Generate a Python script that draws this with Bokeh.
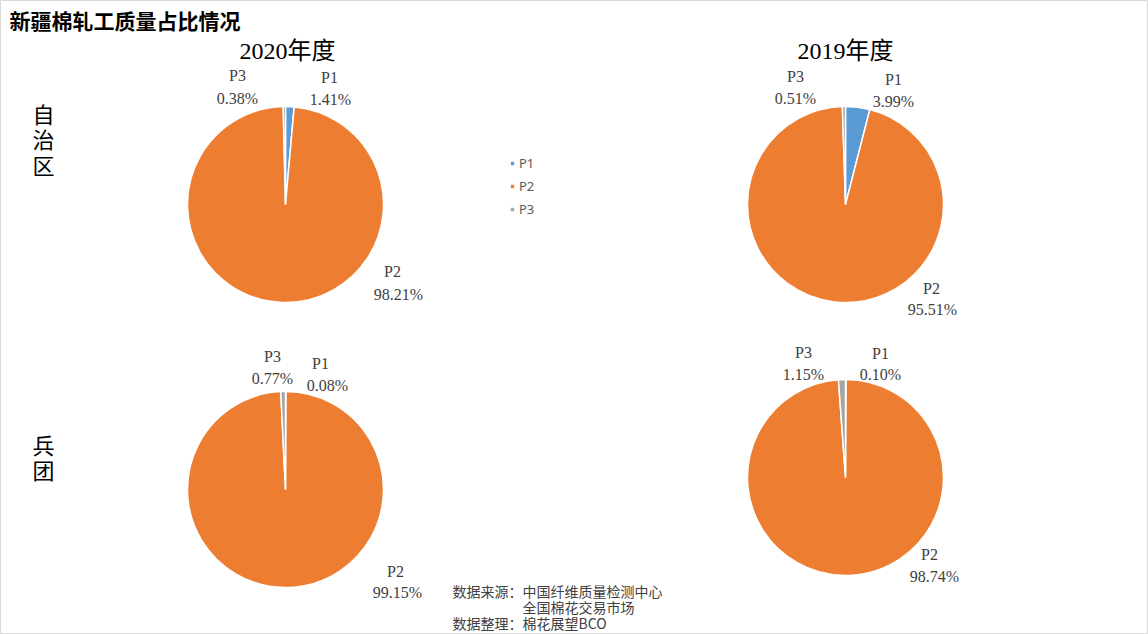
import math
from bokeh.plotting import figure
from bokeh.models import Range1d, ColumnDataSource, Legend, LegendItem
from bokeh.core.properties import value
from bokeh.embed import file_html
from bokeh.resources import INLINE

# ---------------- data ----------------
categories = ["P1", "P2", "P3"]
colors = ["#5B9BD5", "#ED7D31", "#A5A5A5"]
zzq_2020 = [1.41, 98.21, 0.38]   # 自治区 2020年度
zzq_2019 = [3.99, 95.51, 0.51]   # 自治区 2019年度
bt_2020 = [0.08, 99.15, 0.77]    # 兵团 2020年度
bt_2019 = [0.10, 98.74, 1.15]    # 兵团 2019年度
years = ["2020年度", "2019年度"]
regions = ["自治区", "兵团"]
title = "新疆棉轧工质量占比情况"
source_lines = ["数据来源：中国纤维质量检测中心", "全国棉花交易市场", "数据整理：棉花展望BCO"]

# ---------------- layout (pixel coords from top-left) ----------------
W, H = 1148, 634
def Y(y):
    return H - y

SERIF = value("Liberation Serif, Noto Sans CJK SC")
CJK = value("Noto Sans CJK SC")

p = figure(width=W, height=H, output_backend="svg", toolbar_location=None,
           x_range=Range1d(0, W), y_range=Range1d(0, H), min_border=0)
p.axis.visible = False
p.grid.visible = False
p.outline_line_color = "#d9d9d9"
p.background_fill_color = "white"
p.border_fill_color = "white"

# label offsets per category (P1, P2, P3): (name dx, dy, value dx, dy)
pies = [
    (zzq_2020, 285, 204, [(44, -127, 45, -105), (107, 67, 113, 90), (-48, -129, -48, -106)]),
    (zzq_2019, 845, 204, [(48, -125, 48, -103), (86, 84, 87, 105), (-50, -128, -50, -106)]),
    (bt_2020, 285, 489, [(35, -126, 42, -104), (110, 82, 112, 103), (-13, -133, -13, -111)]),
    (bt_2019, 845, 477, [(35, -124, 35, -103), (84, 77, 89, 99), (-42, -125, -42, -103)]),
]
R = 98

wedge_renderers = []
for vals, cx, cy, lab in pies:
    total = sum(vals)
    starts, ends = [], []
    cum = 0.0
    for v in vals:
        starts.append(math.pi / 2 - 2 * math.pi * cum / total)
        cum += v
        ends.append(math.pi / 2 - 2 * math.pi * cum / total)
    src = ColumnDataSource(dict(x=[cx] * 3, y=[Y(cy)] * 3, s=starts, e=ends,
                                c=colors, cat=categories))
    r = p.wedge(x="x", y="y", radius=R, start_angle="s", end_angle="e",
                direction="clock", fill_color="c", line_color="white",
                line_width=1.5, source=src)
    wedge_renderers.append(r)
    for i, (dx1, dy1, dx2, dy2) in enumerate(lab):
        p.text(x=[cx + dx1], y=[Y(cy + dy1)], text=[categories[i]],
               text_font=SERIF, text_font_size="16px", text_color="#404040",
               text_align="center", text_baseline="middle")
        p.text(x=[cx + dx2], y=[Y(cy + dy2)], text=["%.2f%%" % vals[i]],
               text_font=SERIF, text_font_size="16px", text_color="#404040",
               text_align="center", text_baseline="middle")

# year headers
for yr, cx in zip(years, [287, 845]):
    p.text(x=[cx], y=[Y(50)], text=[yr], text_font=SERIF, text_font_size="24px",
           text_color="#000000", text_align="center", text_baseline="middle")

# row headers (vertical, one character per line)
for rg, cy0 in zip(regions, [112, 443]):
    for k, ch in enumerate(rg):
        p.text(x=[43], y=[Y(cy0 + 25.5 * k)], text=[ch], text_font=CJK,
               text_font_size="22px", text_color="#000000", text_align="center",
               text_baseline="middle")

# title
p.text(x=[9], y=[Y(19)], text=[title], text_font=CJK, text_font_size="21px",
       text_font_style="bold", text_color="#000000", text_align="left",
       text_baseline="middle")

# source
p.text(x=[452], y=[Y(590)], text=[source_lines[0]], text_font=CJK,
       text_font_size="14px", text_color="#404040", text_baseline="middle")
p.text(x=[522], y=[Y(606)], text=[source_lines[1]], text_font=CJK,
       text_font_size="14px", text_color="#404040", text_baseline="middle")
p.text(x=[452], y=[Y(622)], text=[source_lines[2]], text_font=CJK,
       text_font_size="14px", text_color="#404040", text_baseline="middle")

# legend (uses the first pie's wedges for colour swatches)
legend = Legend(items=[LegendItem(label=c, renderers=[wedge_renderers[0]], index=i)
                       for i, c in enumerate(categories)],
                location=(507, 414), orientation="vertical",
                background_fill_alpha=0, border_line_alpha=0,
                label_text_font="Noto Sans", label_text_font_size="13px",
                label_text_color="#595959", glyph_width=6, glyph_height=6,
                spacing=5, label_height=17, padding=2, margin=0,
                label_standoff=4)
p.add_layout(legend, "center")

open("out.html", "w").write(file_html(p, INLINE))
